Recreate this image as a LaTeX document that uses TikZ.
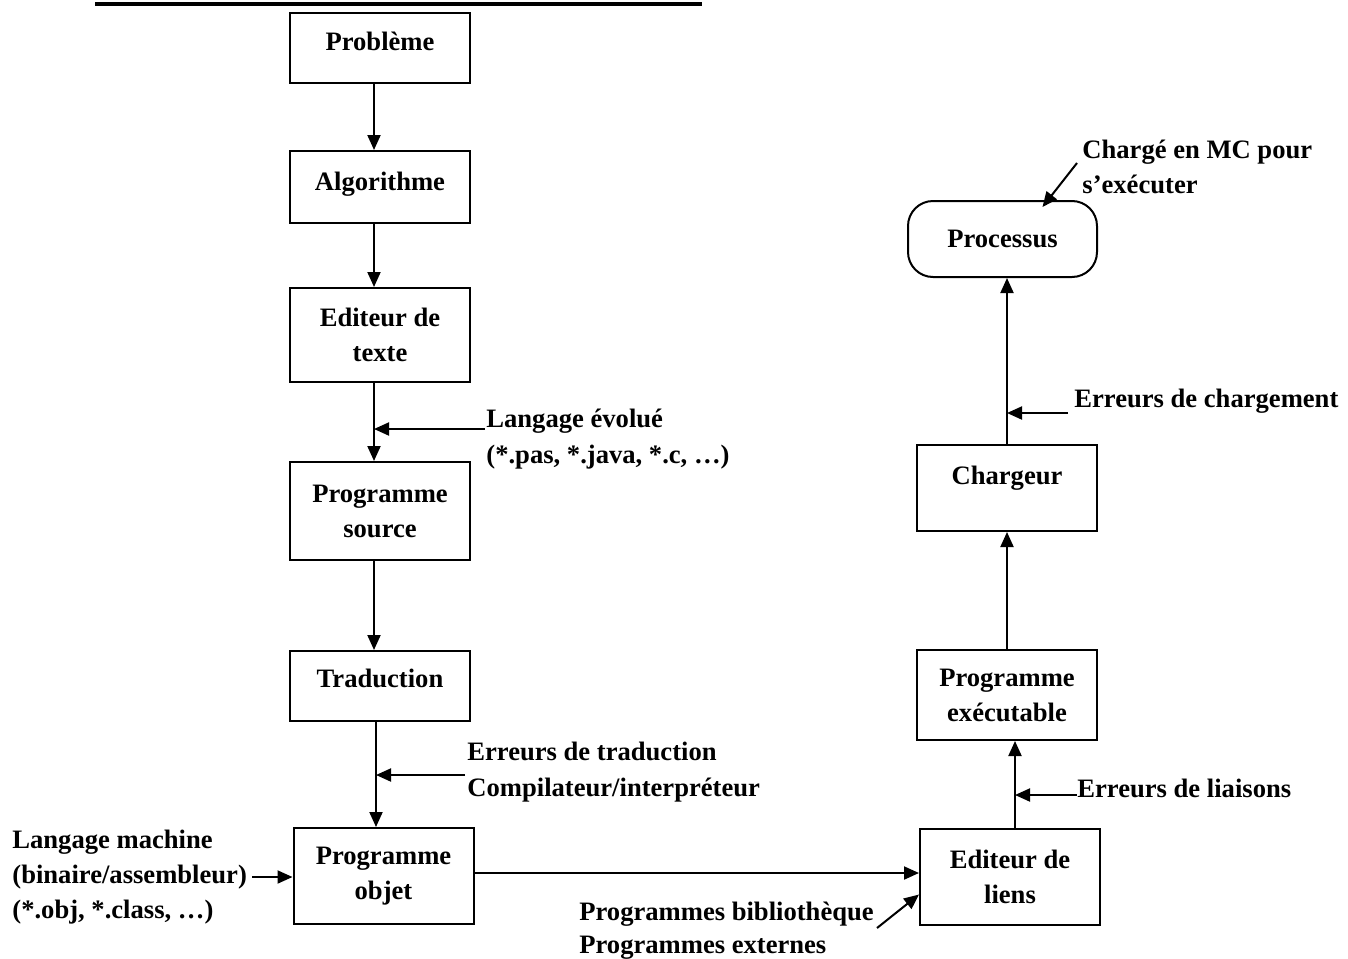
\documentclass[tikz,border=0pt]{standalone}
\usepackage{fontspec}
\setmainfont{Liberation Serif}
\usetikzlibrary{arrows.meta}

\tikzset{
  boite/.style={draw, line width=1pt, minimum width=90pt, inner xsep=0pt, font=\bfseries\fontsize{13.3}{17.5}\selectfont},
  boiteun/.style={boite, inner ysep=0pt},
  boitedeux/.style={boite, align=center},
  etiq/.style={inner sep=0pt, anchor=base west, font=\bfseries\fontsize{13.3}{17.5}\selectfont},
  fleche/.style={line width=1pt, -{Triangle[length=7.5pt,width=6.5pt]}}
}

\begin{document}
\begin{tikzpicture}[x=0.5pt, y=-0.5pt]
\useasboundingbox (0,0) rectangle (1348,958);
% trait du titre coupe
\draw[line width=2pt] (95,4) -- (702,4);

% colonne de gauche
\node[boiteun, anchor=north, text height=18.5pt, text depth=16.5pt] (prob) at (380,12) {Problème};
\node[boiteun, anchor=north, text height=19.5pt, text depth=16.5pt] (algo) at (380,150) {Algorithme};
\node[boitedeux, minimum height=47pt] (edit) at (380,335) {Editeur de\\texte};
\node[boitedeux, minimum height=49pt] (source) at (380,511) {Programme\\source};
\node[boiteun, anchor=north, text height=18pt, text depth=17pt] (trad) at (380,650) {Traduction};
\node[boitedeux, minimum height=48pt] (objet) at (383.5,876) {Programme\\objet};

% colonne de droite
\node[boitedeux, minimum height=48pt] (liens) at (1010,876.5) {Editeur de\\liens};
\node[boitedeux, minimum height=45pt] (exec) at (1007,695) {Programme\\exécutable};
\node[boiteun, anchor=north, text height=19.5pt, text depth=23.5pt] (charg) at (1007,444) {Chargeur};
\node[boite, rounded corners=12.5pt, minimum width=94.5pt, minimum height=38pt] (proc) at (1002.5,239) {Processus};

% etiquettes
\node[etiq] (lang1) at (486,427) {Langage évolué};
\node[etiq] (lang2) at (486,463) {(*.pas, *.java, *.c, …)};
\node[etiq] (trad1) at (467,760) {Erreurs de traduction};
\node[etiq] (trad2) at (467,796) {Compilateur/interpréteur};
\node[etiq] (mach1) at (12,848) {Langage machine};
\node[etiq] (mach2) at (12,883) {(binaire/assembleur)};
\node[etiq] (mach3) at (12,918) {(*.obj, *.class, …)};
\node[etiq] (bib1) at (579,920) {Programmes bibliothèque};
\node[etiq] (bib2) at (579,953) {Programmes externes};
\node[etiq] (liai) at (1077,797) {Erreurs de liaisons};
\node[etiq] (charge) at (1074,407) {Erreurs de chargement};
\node[etiq] (mc1) at (1082,158) {Chargé en MC pour};
\node[etiq] (mc2) at (1082,193) {s’exécuter};

% fleches
\draw[fleche] ([xshift=-3pt]prob.south) -- ([xshift=-3pt]algo.north);
\draw[fleche] ([xshift=-3pt]algo.south) -- ([xshift=-3pt]edit.north);
\draw[fleche] ([xshift=-3pt]edit.south) coordinate (l1) -- ([xshift=-3pt]source.north);
\draw[fleche] ([xshift=-3pt]source.south) -- ([xshift=-3pt]trad.north);
\draw[fleche] ([xshift=-2pt]trad.south) coordinate (l2) -- (l2 |- objet.north);
\draw[fleche] ([yshift=1.5pt]objet.east) -- ([yshift=1.5pt]objet.east -| liens.west);
\draw[fleche] ([xshift=2.5pt]liens.north) coordinate (l3) -- (l3 |- exec.south);
\draw[fleche] (exec.north) -- (charg.south);
\draw[fleche] (charg.north) coordinate (l4) -- (l4 |- proc.south);

\coordinate (e1) at (485,429);
\draw[fleche] (e1) -- (e1 -| l1);
\coordinate (e2) at (465,775);
\draw[fleche] (e2) -- (e2 -| l2);
\coordinate (e3) at (1077,795);
\draw[fleche] (e3) -- (e3 -| l3);
\coordinate (e4) at (1068,413);
\draw[fleche] (e4) -- (e4 -| l4);
\coordinate (e5) at (1077,163);
\draw[fleche] (e5) -- ([xshift=20pt,yshift=-3.5pt]proc.north);
\coordinate (m) at (252,877);
\draw[fleche] (m) -- (m -| objet.west);
\coordinate (b) at (877,928);
\draw[fleche] (b) -- ([yshift=-9pt]liens.west);
\end{tikzpicture}
\end{document}
